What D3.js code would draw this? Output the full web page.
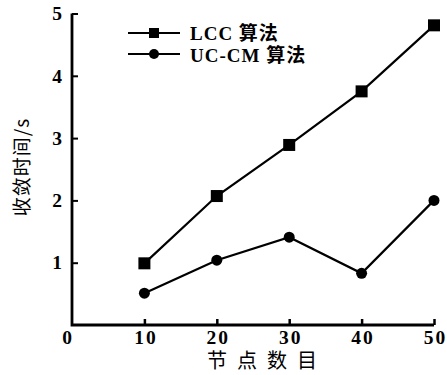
<!DOCTYPE html>
<html><head><meta charset="utf-8">
<script src="https://cdn.jsdelivr.net/npm/d3@7"></script>
<style>
body{margin:0;background:#fff;}
svg{display:block;}
.tick text{font-family:"Liberation Serif","Times New Roman",serif;font-weight:bold;font-size:19.5px;fill:#000;}
</style></head>
<body>
<svg id="c" width="447" height="375"></svg>
<script>
const nodes = [10, 20, 30, 40, 50];
const lcc = [0.99, 2.07, 2.89, 3.75, 4.81];
const uccm = [0.51, 1.04, 1.41, 0.83, 2.0];
const xTicks = [0, 10, 20, 30, 40, 50];
const yTicks = [0, 1, 2, 3, 4, 5];
const seriesNames = ["LCC 算法", "UC-CM 算法"];
const xTitle = "节点数目";
const yTitle = "收敛时间/s";

const svg = d3.select("#c");
const x = d3.scaleLinear().domain([0, 50]).range([72, 434]);
const y = d3.scaleLinear().domain([0, 5]).range([325, 13.5]);

// axes
const xAxis = d3.axisBottom(x).tickValues(xTicks.slice(1)).tickSize(-6).tickPadding(5).tickFormat(d3.format("d"));
const gx = svg.append("g").attr("transform", "translate(0,325)").call(xAxis);
gx.select(".domain").remove();
gx.selectAll(".tick line").attr("stroke", "#000").attr("stroke-width", 2.5);
gx.selectAll(".tick text").attr("dy", "0.71em").style("letter-spacing", "2px").attr("dx", 1);

const yAxis = d3.axisLeft(y).tickValues(yTicks.slice(1)).tickSize(-6).tickPadding(10).tickFormat(d3.format("d"));
const gy = svg.append("g").attr("transform", "translate(72,0)").call(yAxis);
gy.select(".domain").remove();
gy.selectAll(".tick line").attr("stroke", "#000").attr("stroke-width", 2);

// origin label
svg.append("text").attr("x", x(0) - 5).attr("y", 325 + 5).attr("dy", "0.71em")
  .attr("text-anchor", "middle")
  .style("font-family", '"Liberation Serif",serif').style("font-weight", "bold").style("font-size", "19.5px")
  .text(xTicks[0]);

// axis lines
svg.append("path").attr("d", `M${x(0)},${y(5)}V${y(0)}H${x(50)}`)
  .attr("fill", "none").attr("stroke", "#000").attr("stroke-width", 2.8);

// series
const line = d3.line().x((d, i) => x(nodes[i])).y(d => y(d));
[lcc, uccm].forEach(s => {
  svg.append("path").datum(s).attr("d", line).attr("fill", "none")
    .attr("stroke", "#000").attr("stroke-width", 2.2);
});
svg.selectAll(".sq").data(lcc).enter().append("rect")
  .attr("x", (d, i) => x(nodes[i]) - 6).attr("y", d => y(d) - 6)
  .attr("width", 12).attr("height", 12).attr("fill", "#000");
svg.selectAll(".ci").data(uccm).enter().append("circle")
  .attr("cx", (d, i) => x(nodes[i])).attr("cy", d => y(d)).attr("r", 5.5).attr("fill", "#000");

// legend
const leg = [{y: 33, shape: "sq"}, {y: 54, shape: "ci"}];
leg.forEach((l, i) => {
  svg.append("line").attr("x1", 128).attr("x2", 180).attr("y1", l.y).attr("y2", l.y)
    .attr("stroke", "#000").attr("stroke-width", 2);
  if (l.shape === "sq") svg.append("rect").attr("x", 149).attr("y", l.y - 5).attr("width", 10).attr("height", 10);
  else svg.append("circle").attr("cx", 154).attr("cy", l.y).attr("r", 5);
  svg.append("text").attr("x", 190).attr("y", l.y + 7 + i)
    .style("font-family", '"Liberation Serif","Noto Sans CJK SC",serif').style("font-weight", "bold").style("font-size", "19px")
    .style("letter-spacing", "1px")
    .text(seriesNames[i]);
});

// titles
svg.append("text").attr("x", 207).attr("y", 368).attr("text-anchor", "start")
  .style("font-family", '"Liberation Serif","Noto Sans CJK SC",sans-serif').style("font-size", "20px").style("letter-spacing", "10px")
  .text(xTitle);
svg.append("text").attr("transform", "translate(29,167) rotate(-90)").attr("text-anchor", "middle")
  .style("font-family", '"Noto Sans CJK SC",sans-serif').style("font-size", "19px").style("letter-spacing", "1px")
  .text(yTitle);
</script>
</body></html>
